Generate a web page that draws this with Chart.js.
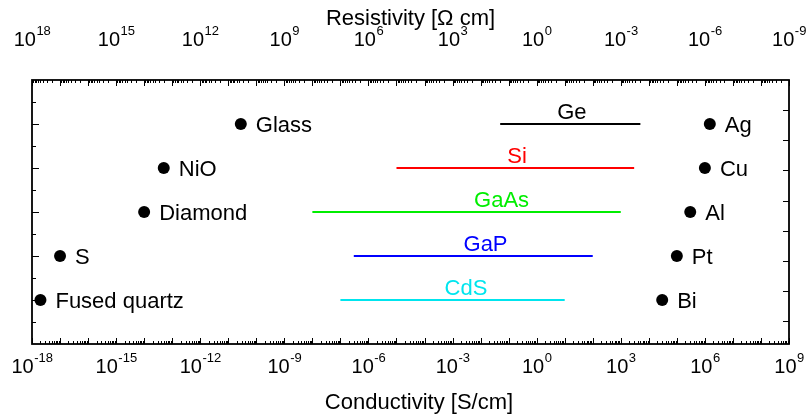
<!DOCTYPE html>
<html>
<head>
<meta charset="utf-8">
<script src="https://cdn.jsdelivr.net/npm/chart.js@4/dist/chart.umd.min.js"></script>
<style>
  html, body { margin: 0; padding: 0; background: #ffffff; }
  #wrap { width: 807px; height: 417px; }
</style>
</head>
<body>
<div id="wrap"><canvas id="c" width="807" height="417"></canvas></div>
<script>
// Electrical conductivity of common materials, S/cm
const rows = [5, 4, 3, 2, 1];

const insulatorNames = ['Glass', 'NiO', 'Diamond', 'S', 'Fused quartz'];
const insulatorSigma = [2.8e-11, 5.0e-14, 1.0e-14, 1.0e-17, 2.0e-18];

const metalNames = ['Ag', 'Cu', 'Al', 'Pt', 'Bi'];
const metalSigma = [1.5e6, 1.0e6, 3.0e5, 1.0e5, 3.0e4];

// Semiconductors: achievable conductivity range (low .. high) and where the name sits
const semiNames = ['Ge', 'Si', 'GaAs', 'GaP', 'CdS'];
const semiLow = [5e-2, 1e-5, 1e-8, 3e-7, 1e-7];
const semiHigh = [5e3, 3e3, 1e3, 1e2, 1e1];
const semiLabelAt = [18, 0.2, 0.056, 0.015, 0.003];

// Decade exponents that carry a label on each axis
const conductivityTickExp = [-18, -15, -12, -9, -6, -3, 0, 3, 6, 9];
const resistivityTickExp = [18, 15, 12, 9, 6, 3, 0, -3, -6, -9];

const semiColors = ['#000000', '#ff0000', '#00ee00', '#0000ff', '#00e5ee'];
const FONT = '"Liberation Sans", Arial, sans-serif';

const datasets = [
  {
    type: 'scatter',
    data: insulatorSigma.map((s, i) => ({ x: s, y: rows[i] })),
    backgroundColor: '#000', borderColor: '#000', pointRadius: 6, pointBorderWidth: 0
  },
  {
    type: 'scatter',
    data: metalSigma.map((s, i) => ({ x: s, y: rows[i] })),
    backgroundColor: '#000', borderColor: '#000', pointRadius: 6, pointBorderWidth: 0
  }
];
semiNames.forEach((n, i) => {
  datasets.push({
    type: 'line',
    data: [{ x: semiLow[i], y: rows[i] }, { x: semiHigh[i], y: rows[i] }],
    borderColor: semiColors[i], borderWidth: 2, pointRadius: 0, fill: false
  });
});

// Frame, inward ticks, superscripted decade labels and text annotations
const decorations = {
  id: 'decorations',
  afterDraw(chart) {
    const ctx = chart.ctx;
    const { left, right, top, bottom } = chart.chartArea;
    const sx = chart.scales.x, sx2 = chart.scales.x2, sy = chart.scales.y, sy2 = chart.scales.y2;
    ctx.save();
    ctx.strokeStyle = '#000';
    ctx.lineWidth = 1.8;
    ctx.strokeRect(left, top, right - left, bottom - top);

    ctx.lineWidth = 1;
    ctx.beginPath();
    // bottom: conductivity decades, ticks pointing up
    for (let e = -18; e <= 9; e++) {
      const p = Math.round(sx.getPixelForValue(Math.pow(10, e))) + 0.5;
      ctx.moveTo(p, bottom); ctx.lineTo(p, bottom - 6);
      if (e < 9) {
        for (let k = 2; k <= 9; k++) {
          const q = Math.round(sx.getPixelForValue(k * Math.pow(10, e))) + 0.5;
          ctx.moveTo(q, bottom); ctx.lineTo(q, bottom - 3);
        }
      }
    }
    // top: resistivity decades, ticks pointing down
    for (let e = -9; e <= 18; e++) {
      const p = Math.round(sx2.getPixelForValue(Math.pow(10, e))) + 0.5;
      ctx.moveTo(p, top); ctx.lineTo(p, top + 6);
      if (e < 18) {
        for (let k = 2; k <= 9; k++) {
          const q = Math.round(sx2.getPixelForValue(k * Math.pow(10, e))) + 0.5;
          ctx.moveTo(q, top); ctx.lineTo(q, top + 3);
        }
      }
    }
    // left: rows and half rows
    for (let v = 0.5; v < 6; v += 0.5) {
      const p = Math.round(sy.getPixelForValue(v)) + 0.5;
      const len = Number.isInteger(v) ? 7 : 4;
      ctx.moveTo(left, p); ctx.lineTo(left + len, p);
    }
    // right: secondary scale
    for (let v = 1; v <= 8; v++) {
      const p = Math.round(sy2.getPixelForValue(v)) + 0.5;
      ctx.moveTo(right, p); ctx.lineTo(right - 6, p);
    }
    ctx.stroke();

    ctx.fillStyle = '#000';
    const power = (x, base, exp) => {
      ctx.font = '20px ' + FONT;
      const w1 = ctx.measureText('10').width;
      ctx.font = '13px ' + FONT;
      const w2 = ctx.measureText(exp).width;
      const x0 = x - (w1 + w2) / 2;
      ctx.textAlign = 'left';
      ctx.textBaseline = 'alphabetic';
      ctx.font = '20px ' + FONT;
      ctx.fillText('10', x0, base);
      ctx.font = '13px ' + FONT;
      ctx.fillText(exp, x0 + w1 + 0.5, base - 11);
    };
    conductivityTickExp.forEach(e => power(sx.getPixelForValue(Math.pow(10, e)), 373, String(e)));
    resistivityTickExp.forEach(e => power(sx2.getPixelForValue(Math.pow(10, e)), 46, String(e)));

    ctx.font = '22px ' + FONT;
    ctx.textAlign = 'center';
    ctx.fillText('Resistivity [\u03A9 cm]', (left + right) / 2, 25);
    ctx.fillText('Conductivity [S/cm]', 419, 409);

    // material names beside their points
    ctx.textAlign = 'left';
    const tag = (names, values) => names.forEach((n, i) => {
      const px = sx.getPixelForValue(values[i]);
      const py = sy.getPixelForValue(rows[i]);
      ctx.fillText(n, px + 15, py + 8);
    });
    tag(insulatorNames, insulatorSigma);
    tag(metalNames, metalSigma);

    // semiconductor names above their ranges
    ctx.textAlign = 'center';
    semiNames.forEach((n, i) => {
      ctx.fillStyle = semiColors[i];
      ctx.fillText(n, sx.getPixelForValue(semiLabelAt[i]), sy.getPixelForValue(rows[i]) - 5);
    });
    ctx.restore();
  }
};

new Chart(document.getElementById('c'), {
  data: { datasets },
  options: {
    responsive: false,
    animation: false,
    events: [],
    layout: { padding: { left: 32, right: 18, top: 80, bottom: 73 } },
    plugins: { legend: { display: false }, tooltip: { enabled: false } },
    scales: {
      x: { type: 'logarithmic', min: 1e-18, max: 1e9, display: false },
      x2: { type: 'logarithmic', min: 1e-9, max: 1e18, reverse: true, display: false },
      y: { type: 'linear', min: 0, max: 6, display: false },
      y2: { type: 'linear', min: 0.24, max: 9.0, display: false }
    }
  },
  plugins: [decorations]
});
</script>
</body>
</html>
